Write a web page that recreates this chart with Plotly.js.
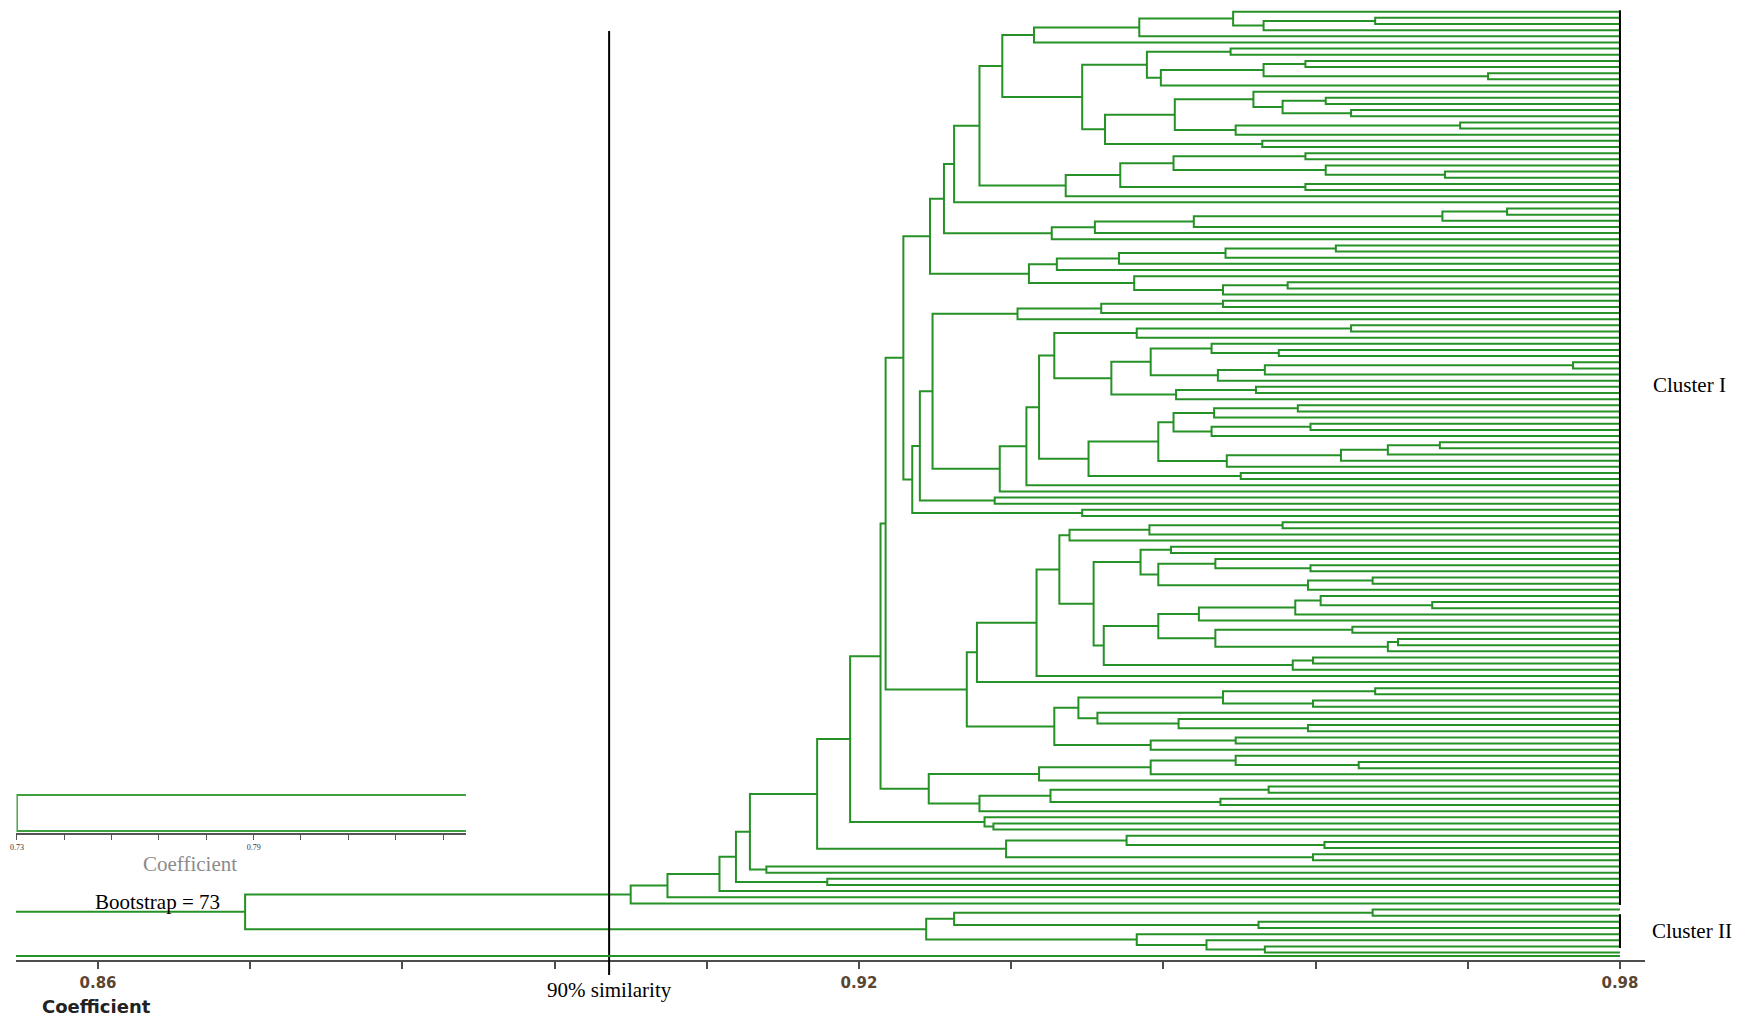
<!DOCTYPE html>
<html><head><meta charset="utf-8">
<script src="https://cdn.plot.ly/plotly-3.0.1.min.js"></script>
<style>html,body{margin:0;padding:0;background:#fff}#chart{width:1749px;height:1016px}</style>
</head><body><div id="chart"></div>
<script>
// ---- Dendrogram data (UPGMA-style merges, similarity coefficient) ----
// childA = upper branch, childB = lower branch, '.' = a leaf (accession)
const nodeId = ['R','n631','n668','n719','n737','n827','n751','n767','n817','n1006','n1126','n1325','n1313b','n850','n984','n994','n881','n928','n1039','n1150b','n1236b','n1359','n979','n1050b','n1269','n1221','n885','n967','n1054','n1150c','n1236c','n1078','n1222','n1376','n1313c','n1097','n1178','n1308b','n977','n1037','n1059','n1069','n1149','n1283','n1093','n1141','n1171','n1158a','n1216a','n1311a','n1308a','n1373a','n1104','n1158b','n1199','n1295','n1320','n1432','n1216b','n1352','n1388','n1398','n1293','n1313d','n903','n912','n1082b','n920','n995','n933','n1000','n1027','n1039b','n1088','n1241','n1158c','n1173c','n1214','n1298','n1211c','n1311c','n1227','n1340','n1388b','n1440','n1054b','n1136','n1351b','n1111','n1151','n1211b','n1278','n1218','n1266','n1573','n1176','n1255','n1017','n1102','n1223b','n930','n1029','n1056','n1119','n1226','n1335','n1134','n1223c','n1288','n944','n1051','n1095','n1194','n1442','n1507','n954','n979t','n1066','n1120','n1173t','n1306a','n1326','n1445','n1306c','n1002','n1034','n1139','n1233','n1264','n1376t','n1082','n1146','n1231','n1161','n1264b','n1306b','n1488','n1106','n1174','n1253','n1282','n1326b','n1351t','n1236t','n1460','n1262','n926','n954c','n1373c','n1258','n1137','n1206','n1265'];
const childA = ['n631','n668','n719','n737','n751','.','n817','.','n850','n1126','.','.','.','n881','.','.','n885','n1039','n1150b','n1236b','.','.','n1050b','n1269','.','.','n903','n977','n1078','n1236c','.','n1222','n1376','.','.','.','.','.','n1037','n1059','n1069','n1149','n1283','.','n1141','n1171','.','n1216a','.','.','n1373a','.','n1158b','n1199','n1295','n1320','.','.','n1352','.','n1398','.','n1313d','.','n930','n920','.','n933','.','n1017','n1027','n1039b','n1054b','n1158c','.','n1173c','n1214','n1298','.','n1311c','.','n1340','n1388b','n1440','.','n1136','n1351b','.','n1151','n1211b','.','.','n1266','n1573','.','n1255','.','n1102','n1223b','.','n944','n1056','n1119','n1226','n1335','.','.','n1288','.','n954','n1095','n1194','n1442','n1507','.','n979t','n1002','n1120','n1173t','n1306a','.','.','.','.','n1034','n1139','n1233','.','n1376t','.','n1146','n1231','.','n1264b','n1306b','.','.','n1174','n1253','.','n1326b','.','.','n1460','.','.','n954c','n1373c','.','.','.','.','.'];
const childB = ['n926','.','.','.','n827','.','n767','.','n1006','n1313b','n1325','.','.','n984','n994','.','n928','n979','.','.','n1359','.','.','n1221','.','.','n967','n1054','n1150c','.','.','n1097','n1313c','.','.','n1178','n1308b','.','.','.','n1093','.','.','.','n1104','n1158a','.','n1308a','n1311a','.','.','.','n1293','n1216b','.','.','n1432','.','n1388','.','.','.','.','.','n912','n1082b','.','n995','.','n1000','.','.','n1088','n1241','.','n1227','n1211c','.','.','.','.','.','.','.','.','n1111','.','.','n1176','n1218','n1278','.','.','.','.','.','.','.','.','.','n1029','n1134','.','.','.','.','n1223c','.','.','n1051','.','.','.','.','.','.','n1066','.','n1306c','n1326','.','n1445','.','.','n1082','.','.','n1264','.','.','n1106','n1161','.','.','n1488','.','.','n1262','n1236t','n1282','n1351t','.','.','.','.','.','n1137','n1258','.','.','n1206','n1265','.'];
const nodeCoef = [0.8716,0.9020,0.9049,0.9090,0.9103,0.9175,0.9114,0.9127,0.9167,0.9316,0.9411,0.9567,0.9558,0.9193,0.9299,0.9306,0.9217,0.9255,0.9342,0.9430,0.9497,0.9594,0.9295,0.9351,0.9523,0.9485,0.9221,0.9285,0.9354,0.9430,0.9497,0.9373,0.9487,0.9607,0.9558,0.9388,0.9452,0.9554,0.9293,0.9340,0.9358,0.9366,0.9429,0.9534,0.9385,0.9422,0.9446,0.9436,0.9481,0.9556,0.9554,0.9605,0.9393,0.9436,0.9468,0.9544,0.9564,0.9652,0.9481,0.9589,0.9617,0.9625,0.9542,0.9558,0.9235,0.9242,0.9376,0.9248,0.9307,0.9258,0.9311,0.9332,0.9342,0.9381,0.9501,0.9436,0.9448,0.9480,0.9546,0.9478,0.9556,0.9490,0.9580,0.9617,0.9658,0.9354,0.9419,0.9588,0.9399,0.9430,0.9478,0.9531,0.9483,0.9520,0.9763,0.9450,0.9513,0.9325,0.9391,0.9487,0.9256,0.9334,0.9356,0.9405,0.9489,0.9576,0.9417,0.9487,0.9538,0.9267,0.9352,0.9386,0.9464,0.9660,0.9711,0.9275,0.9295,0.9363,0.9406,0.9448,0.9552,0.9568,0.9662,0.9552,0.9313,0.9338,0.9421,0.9495,0.9519,0.9607,0.9376,0.9427,0.9493,0.9438,0.9519,0.9552,0.9696,0.9394,0.9449,0.9511,0.9534,0.9568,0.9588,0.9497,0.9674,0.9518,0.9253,0.9275,0.9605,0.9515,0.9419,0.9474,0.9520];
const rootId = 'R';
const leafCoef = 0.98;
const rootTail = 0.8535;
const similarityCut = 0.9003;
const bootstrapValue = 73;

const tickVals = [0.86,0.872,0.884,0.896,0.908,0.92,0.932,0.944,0.956,0.968,0.98];
const tickText = ['0.86','','','','','0.92','','','','','0.98'];

const clusterNames = ['Cluster I','Cluster II'];
const clusterFirstLeaf = [0,147];
const clusterLastLeaf = [145,152];

// small pasted inset (scale bar from another figure)
const insetNodeCoef = 0.73;
const insetTickVals = [0.73,0.742,0.754,0.766,0.778,0.79,0.802,0.814,0.826,0.838];
const insetTickText = ['0.73','','','','','0.79','','','',''];

// ---- build dendrogram segments through the data scales ----
const idx = {}; nodeId.forEach((id,i)=>{idx[id]=i;});
let leafCount = 0;
const tx = [], ty = [];
function place(id){
  if(id === '.') return {y: leafCount++, x: leafCoef};
  const i = idx[id];
  const a = place(childA[i]);
  const b = place(childB[i]);
  const h = nodeCoef[i];
  tx.push(a.x, h, h, b.x, null);
  ty.push(a.y, a.y, b.y, b.y, null);
  return {y: (a.y + b.y) / 2, x: h};
}
const root = place(rootId);
tx.push(rootTail, root.x, null);
ty.push(root.y, root.y, null);

const bx = [], by = [];
clusterNames.forEach((n,k)=>{
  bx.push(leafCoef, leafCoef, null);
  by.push(clusterFirstLeaf[k]-0.25, clusterLastLeaf[k]+0.25, null);
});

const green = 'rgb(38,145,38)';
const traces = [
  {type:'scatter', mode:'lines', x:tx, y:ty, line:{color:green, width:2}, hoverinfo:'skip', xaxis:'x', yaxis:'y'},
  {type:'scatter', mode:'lines', x:bx, y:by, line:{color:'#000', width:2}, hoverinfo:'skip', xaxis:'x', yaxis:'y'},
  {type:'scatter', mode:'lines', x:[leafCoef, insetNodeCoef, insetNodeCoef, leafCoef], y:[0,0,1,1],
   line:{color:'rgb(60,160,60)', width:2}, hoverinfo:'skip', xaxis:'x2', yaxis:'y2'}
];

const serif = 'Liberation Serif, Times New Roman, serif';
const layout = {
  width:1749, height:1016,
  margin:{l:16, r:104, t:0, b:56},
  paper_bgcolor:'#fff', plot_bgcolor:'rgba(0,0,0,0)',
  showlegend:false,
  xaxis:{
    range:[0.853535, 0.981974], domain:[0,1], anchor:'y',
    showgrid:false, zeroline:false,
    showline:true, linecolor:'#4d4d4d', linewidth:2,
    ticks:'outside', ticklen:7, tickwidth:2, tickcolor:'#4d4d4d',
    ticklabelstandoff:1,
    tickmode:'array', tickvals:tickVals, ticktext:tickText,
    tickfont:{family:'DejaVu Sans, Verdana, sans-serif', size:15, color:'#5a4632', weight:'bold'}
  },
  yaxis:{range:[154.2, -1.902], visible:false, showgrid:false, zeroline:false, anchor:'x'},
  xaxis2:{
    range:[0.7299, 0.8438], domain:[0.0003, 0.2762], anchor:'y2',
    showgrid:false, zeroline:false,
    showline:true, linecolor:'#555', linewidth:2,
    ticks:'outside', ticklen:5, tickwidth:1, tickcolor:'#555',
    tickmode:'array', tickvals:insetTickVals, ticktext:insetTickText,
    tickfont:{family:serif, size:8, color:'#333'}
  },
  yaxis2:{range:[1.056, -0.139], domain:[0.1323, 0.1771], anchor:'x2', visible:false, showgrid:false, zeroline:false},
  shapes:[
    {type:'line', xref:'x', yref:'paper', x0:similarityCut, x1:similarityCut, y0:-0.0156, y1:0.9677,
     line:{color:'#000', width:2}},
    {type:'line', xref:'x', yref:'paper', x0:rootTail, x1:leafCoef, y0:0.0042, y1:0.0042,
     line:{color:green, width:2}}
  ],
  annotations:[
    {xref:'x', yref:'y', x:leafCoef, y:60.7, xshift:70, text:clusterNames[0], showarrow:false,
     xanchor:'center', yanchor:'middle', font:{family:serif, size:21, color:'#000'}},
    {xref:'x', yref:'y', x:leafCoef, y:149.5, xshift:72, text:clusterNames[1], showarrow:false,
     xanchor:'center', yanchor:'middle', font:{family:serif, size:21, color:'#000'}},
    {xref:'x', yref:'y', x:0.8647, y:144.8, text:'Bootstrap = ' + bootstrapValue, showarrow:false,
     xanchor:'center', yanchor:'middle', font:{family:serif, size:21, color:'#000'}},
    {xref:'x', yref:'paper', x:similarityCut, y:-0.0313, text:Math.round(similarityCut*100) + '% similarity', showarrow:false,
     xanchor:'center', yanchor:'middle', font:{family:serif, size:21, color:'#000'}},
    {xref:'paper', yref:'paper', x:0.0497, y:-0.0489, text:'<b>Coefficient</b>', showarrow:false,
     xanchor:'center', yanchor:'middle', font:{family:'DejaVu Sans, Verdana, sans-serif', size:18, color:'#222'}},
    {xref:'paper', yref:'paper', x:0.1068, y:0.1, text:'Coefficient', showarrow:false,
     xanchor:'center', yanchor:'middle', font:{family:serif, size:21, color:'#8c8c8c'}}
  ]
};

Plotly.newPlot('chart', traces, layout, {staticPlot:true, displayModeBar:false});
</script>
</body></html>
